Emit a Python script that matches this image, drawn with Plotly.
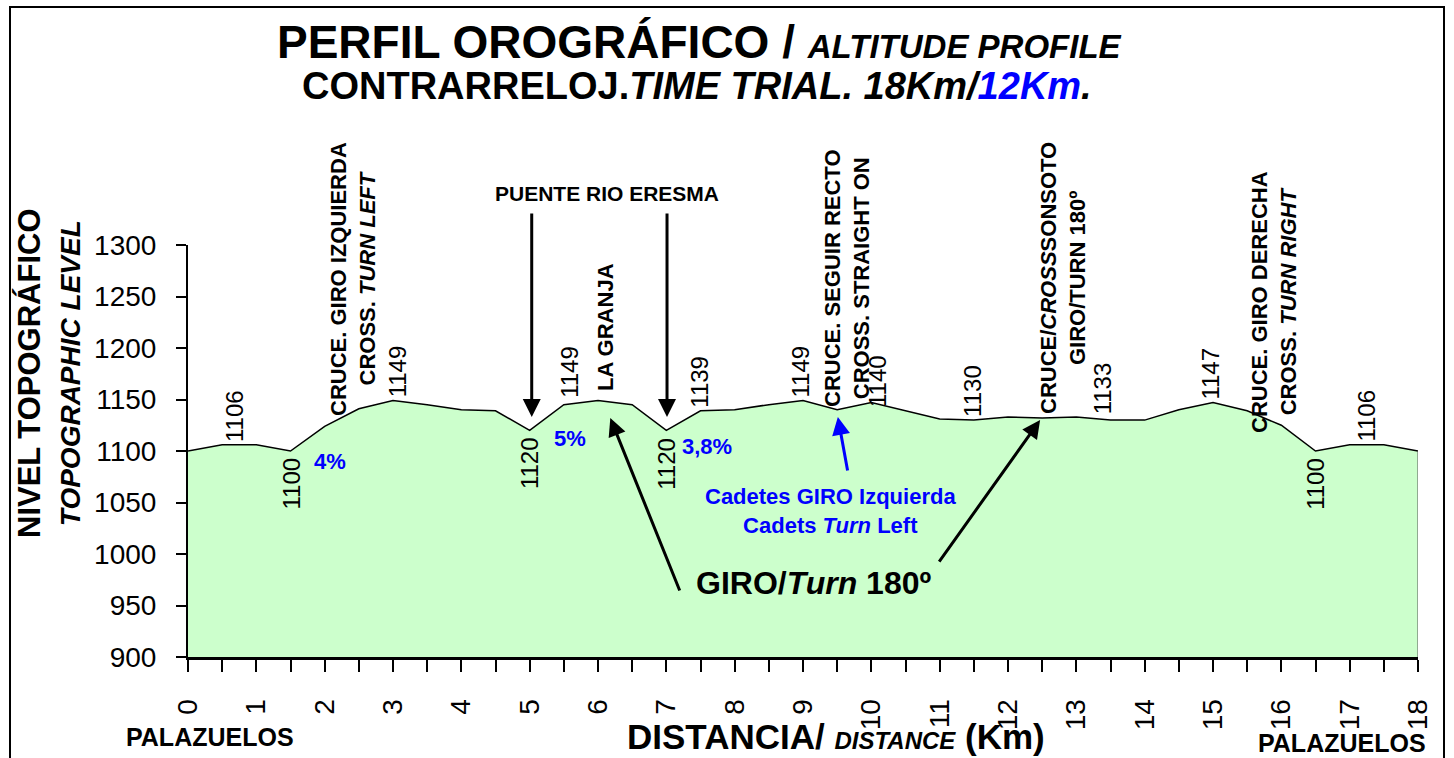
import plotly.graph_objects as go

# ---------------- data ----------------
distance_km = [0, 0.5, 1, 1.5, 2, 2.5, 3, 3.5, 4, 4.5, 5, 5.5, 6, 6.5, 7, 7.5, 8, 8.5, 9,
               9.5, 10, 10.5, 11, 11.5, 12, 12.5, 13, 13.5, 14, 14.5, 15, 15.5, 16, 16.5,
               17, 17.5, 18]
elevation_m = [1100, 1106, 1106, 1100, 1124, 1141, 1149, 1145, 1140, 1139, 1120, 1145, 1149,
               1145, 1120, 1139, 1140, 1145, 1149, 1140, 1147, 1139, 1131, 1130, 1133, 1132,
               1133, 1130, 1130, 1140, 1147, 1139, 1125, 1100, 1106, 1106, 1100]

label_text = ["1106", "1100", "1149", "1120", "1149", "1120", "1139", "1149", "1140",
              "1130", "1133", "1147", "1100", "1106"]
label_km = [0.69, 1.5, 3.07, 5.0, 5.58, 7.0, 7.49, 8.97, 10.1, 11.47, 13.38, 14.97, 16.49, 17.25]
label_side = ["above", "below", "above", "below", "above", "below", "above", "above", "above",
              "above", "above", "above", "below", "above"]

x_tick_vals = list(range(0, 19))
y_tick_vals = [900, 950, 1000, 1050, 1100, 1150, 1200, 1250, 1300]

# ---------------- geometry helpers (pixel -> paper) ----------------
W, H = 1454, 758
L, R, T, B = 188, 1418, 245, 657


def px(x):
    return (x - L) / (R - L)


def py(y):
    return (B - y) / (B - T)


FONT = "Arial, Liberation Sans, sans-serif"
BLUE = "#0000FF"

fig = go.Figure()
fig.add_trace(go.Scatter(
    x=distance_km, y=elevation_m, mode="lines", fill="tozeroy",
    fillcolor="#CCFFCC", line=dict(color="black", width=1.5),
    hoverinfo="skip", showlegend=False))

ann = []

# elevation value labels
for t, k, s in zip(label_text, label_km, label_side):
    v = int(t)
    ann.append(dict(x=k, y=v, xref="x", yref="y", text=t, showarrow=False,
                    textangle=-90, xanchor="center",
                    yanchor="bottom" if s == "above" else "top",
                    yshift=1 if s == "above" else -5,
                    font=dict(family=FONT, size=24, color="black")))


def txt(x, y, text, size, color="black", angle=0, **kw):
    d = dict(x=px(x), y=py(y), xref="paper", yref="paper", text=text, showarrow=False,
             textangle=angle, xanchor="center", yanchor="middle", align="center",
             font=dict(family=FONT, size=size, color=color))
    d.update(kw)
    ann.append(d)


# titles
txt(699, 42, "<b>PERFIL OROGRÁFICO / <i><span style='font-size:33px'>ALTITUDE PROFILE</span></i></b>", 46)
txt(697, 86, "<b>CONTRARRELOJ.<i>TIME TRIAL. 18Km/<span style='color:#0000FF'>12Km</span>.</i></b>", 38)

# rotated place annotations
txt(353, 279, "<b>CRUCE. GIRO IZQUIERDA<br>CROSS. <i>TURN LEFT</i></b>", 22, angle=-90)
txt(605, 327, "<b>LA GRANJA</b>", 22, angle=-90)
txt(847, 278, "<b>CRUCE. SEGUIR RECTO<br>CROSS. STRAIGHT ON</b>", 22, angle=-90)
txt(1063, 278, "<b>CRUCE/<i>CROSS</i>SONSOTO<br>GIRO/TURN 180º</b>", 22, angle=-90)
txt(1274, 302, "<b>CRUCE. GIRO DERECHA<br>CROSS. <i>TURN RIGHT</i></b>", 22, angle=-90)

txt(607, 193, "<b>PUENTE RIO ERESMA</b>", 21)

# gradients
txt(330, 461, "<b>4%</b>", 22, BLUE)
txt(570, 438, "<b>5%</b>", 22, BLUE)
txt(707, 446, "<b>3,8%</b>", 22, BLUE)

txt(831, 511, "<b>Cadetes GIRO Izquierda<br>Cadets <i>Turn</i> Left</b>", 22, BLUE)
txt(813, 583, "<b>GIRO/<i>Turn</i> 180º</b>", 32)

# axis titles and place names
txt(49, 373, "<b>NIVEL TOPOGRÁFICO<br><i><span style='font-size:28px'>TOPOGRAPHIC LEVEL</span></i></b>",
    31, angle=-90)
txt(836, 736, "<b>DISTANCIA/ <i><span style='font-size:24px'>DISTANCE</span></i> (Km)</b>", 35)
txt(210, 737, "<b>PALAZUELOS</b>", 25)
txt(1342, 743, "<b>PALAZUELOS</b>", 25)


# arrows (tip in data coords, tail as pixel offset)
def arrow(x, y, ax, ay, color="black"):
    ann.append(dict(x=x, y=y, xref="x", yref="y", ax=ax, ay=ay, text="",
                    showarrow=True, arrowhead=2, arrowsize=1.2, arrowwidth=3,
                    arrowcolor=color, standoff=0))


arrow(5.03, 1133, 0, -205)
arrow(7.01, 1133, 0, -205)
arrow(9.51, 1133, 10, 55, BLUE)
arrow(6.18, 1132, 70, 174)
arrow(12.47, 1130, -102, 143)

shapes = [
    # outer chart border
    dict(type="rect", xref="paper", yref="paper", x0=px(10), x1=px(1444), y0=py(800), y1=py(7),
         line=dict(color="black", width=2), fillcolor="rgba(0,0,0,0)", layer="below"),
    # right edge of the area
    dict(type="line", xref="x", yref="y", x0=distance_km[-1], x1=distance_km[-1],
         y0=900, y1=elevation_m[-1], line=dict(color="#555555", width=1)),
]

fig.update_layout(
    width=W, height=H, autosize=False,
    margin=dict(l=L, r=W - R, t=T, b=H - B, pad=0),
    paper_bgcolor="white", plot_bgcolor="white",
    annotations=ann, shapes=shapes, showlegend=False,
    font=dict(family=FONT, color="black"),
)
fig.update_xaxes(
    range=[0, 18], tickvals=x_tick_vals, ticktext=[str(v) for v in x_tick_vals],
    tickangle=-90, tickfont=dict(family=FONT, size=28, color="black"),
    ticks="outside", ticklen=12, tickwidth=2, tickcolor="black",
    minor=dict(dtick=0.5, ticks="outside", ticklen=12, tickwidth=2, tickcolor="black"),
    showline=True, linecolor="black", linewidth=3, showgrid=False, zeroline=False,
    ticklabelstandoff=16,
)
fig.update_yaxes(
    range=[900, 1300], tickvals=y_tick_vals,
    tickfont=dict(family=FONT, size=28, color="black"),
    ticks="outside", ticklen=10, tickwidth=2, tickcolor="black",
    showline=True, linecolor="black", linewidth=2, showgrid=False, zeroline=False,
    ticklabelstandoff=14,
)

fig.write_html("out.html", config={"displayModeBar": False},
               post_script="document.body.style.margin='0px';")
